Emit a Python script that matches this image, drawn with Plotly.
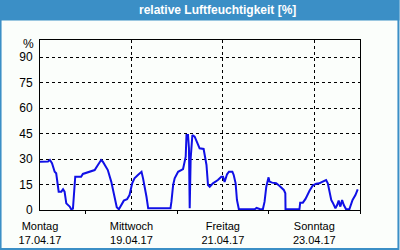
import plotly.graph_objects as go

# hours since Monday 17.04.17 00:00
hours = [0, 4.2, 5.2, 6.3, 7.7, 8.5, 9.8, 11.2, 12.1, 12.9, 13.8, 15.6, 16.4, 17.3,
         18.5, 21.6, 22.5, 24.3, 26.9, 28.7, 30.4, 32.1, 33.0, 35.6, 37.4, 39.1, 40.3,
         41.4, 42.6, 44.0, 45.7, 47.0, 48.4, 49.6, 51.4, 53.3, 54.1, 55.0, 55.9, 56.8,
         68.5, 69.0, 69.9, 70.7, 72.5, 75.1, 76.0, 76.5, 76.9, 77.7, 78.2, 78.6, 79.1,
         80.0, 81.2, 83.0, 83.8, 85.9, 87.4, 88.2, 89.1, 90.8, 93.4, 95.2, 96.1, 96.9,
         98.2, 99.2, 101.0, 101.7, 102.7, 103.4, 104.4, 112.7, 113.7, 115.3, 117.0,
         117.9, 118.8, 120.0, 120.5, 121.9, 124.0, 125.8, 128.0, 128.8, 128.9, 136.2,
         136.6, 138.0, 139.4, 141.5, 143.2, 145.0, 146.7, 147.6, 149.3, 150.2, 151.1,
         152.0, 152.9, 153.7, 155.1, 156.0, 156.8, 157.7, 158.6, 159.5, 160.7, 162.4,
         163.3, 164.1, 165.6, 166.8]
humidity = [28.4, 28.5, 29.4, 27.5, 22.5, 21.6, 10.8, 10.8, 12.2, 10.8, 3.9, 2.0, 0.4, 0.8,
            19.6, 19.6, 21.2, 21.9, 22.5, 23.5, 26.5, 29.4, 28.4, 23.5, 16.7, 7.8, 1.6,
            0.4, 2.4, 5.5, 6.3, 8.8, 15.7, 18.6, 20.6, 22.5, 18.6, 13.7, 7.8, 1.0,
            1.0, 4.9, 14.7, 18.6, 22.5, 24.1, 29.4, 31.4, 44.1, 44.1, 36.3, 1.0, 30.4,
            44.1, 43.1, 38.2, 36.3, 35.9, 26.5, 14.7, 13.7, 15.7, 17.6, 19.6, 19.6, 16.5,
            21.0, 22.5, 22.5, 20.6, 15.7, 5.9, 0.4, 0.4, 1.2, 0.6, 0.4,
            4.9, 13.7, 19.2, 16.7, 16.1, 15.7, 14.1, 11.8, 9.8, 0.4, 0.4,
            4.3, 4.3, 6.5, 11.3, 14.4, 15.5, 15.7, 16.3, 17.3, 17.6, 15.7,
            10.8, 5.9, 4.3, 1.0, 2.9, 5.5, 2.0, 5.9, 2.9, 0.4, 0.4,
            2.9, 5.9, 8.8, 12.2]

x_tickvals = [0, 48, 96, 144]
x_ticktext = ["Montag<br>17.04.17", "Mittwoch<br>19.04.17", "Freitag<br>21.04.17", "Sonntag<br>23.04.17"]
y_tickvals = [0, 15, 30, 45, 60, 75, 90]
title_text = "relative Luftfeuchtigkeit [%]"

W, H = 400, 250
ml, mr, mt, mb = 40, 39.5, 40, 40
pw, ph = W - ml - mr, H - mt - mb

def px_x(p):
    return (p - ml) / pw

def px_y(p):
    return 1 - (p - mt) / ph

FONT = "Liberation Sans"
BLUE = "#3b8fc6"

fig = go.Figure()
fig.add_trace(go.Scatter(x=hours, y=humidity, mode="lines",
                         line=dict(color="#1010e6", width=2), hoverinfo="skip"))

fig.update_layout(
    width=W, height=H,
    margin=dict(l=ml, r=mr, t=mt, b=mb, autoexpand=False),
    paper_bgcolor="#fbfefb", plot_bgcolor="#fbfefb",
    showlegend=False,
    font=dict(family=FONT, size=11, color="black"),
    xaxis=dict(range=[0, 168], tickvals=x_tickvals, ticktext=x_ticktext,
               showgrid=True, gridcolor="black", griddash="3px,3px", gridwidth=1,
               showline=True, linecolor="black", linewidth=1, mirror=True,
               ticks="outside", ticklen=5.5, tickcolor="rgba(0,0,0,0)",
               zeroline=False, fixedrange=True, automargin=False,
               minor=dict(tickvals=[24, 72, 120, 168], ticks="outside", ticklen=3,
                          tickcolor="black", showgrid=False),
               tickfont=dict(family=FONT, size=11)),
    yaxis=dict(range=[0, 100], tickvals=y_tickvals,
               showgrid=True, gridcolor="black", griddash="3px,3px", gridwidth=1,
               showline=True, linecolor="black", linewidth=1, mirror=True,
               ticks="", zeroline=False, fixedrange=True, ticklabelstandoff=4,
               automargin=False, tickfont=dict(family=FONT, size=12)),
)

# title bar
fig.add_shape(type="rect", xref="paper", yref="paper",
              x0=px_x(0), x1=px_x(W), y0=px_y(20.5), y1=px_y(0),
              fillcolor=BLUE, line=dict(width=0), layer="below")
# outer frame
fig.add_shape(type="rect", xref="paper", yref="paper",
              x0=px_x(0.5), x1=px_x(W - 1), y0=px_y(H - 1), y1=px_y(0),
              fillcolor="rgba(0,0,0,0)", line=dict(color=BLUE, width=2))

fig.add_annotation(text="<b>" + title_text + "</b>", xref="paper", yref="paper",
                   x=px_x(218), y=px_y(10.5), xanchor="center", yanchor="middle",
                   showarrow=False, font=dict(family=FONT, size=12, color="white"))
fig.add_annotation(text="%", xref="paper", yref="paper",
                   x=px_x(36), y=px_y(43.5), xanchor="right", yanchor="middle",
                   showarrow=False, font=dict(family=FONT, size=12, color="black"))

fig.write_html("out.html", config={"displayModeBar": False})
